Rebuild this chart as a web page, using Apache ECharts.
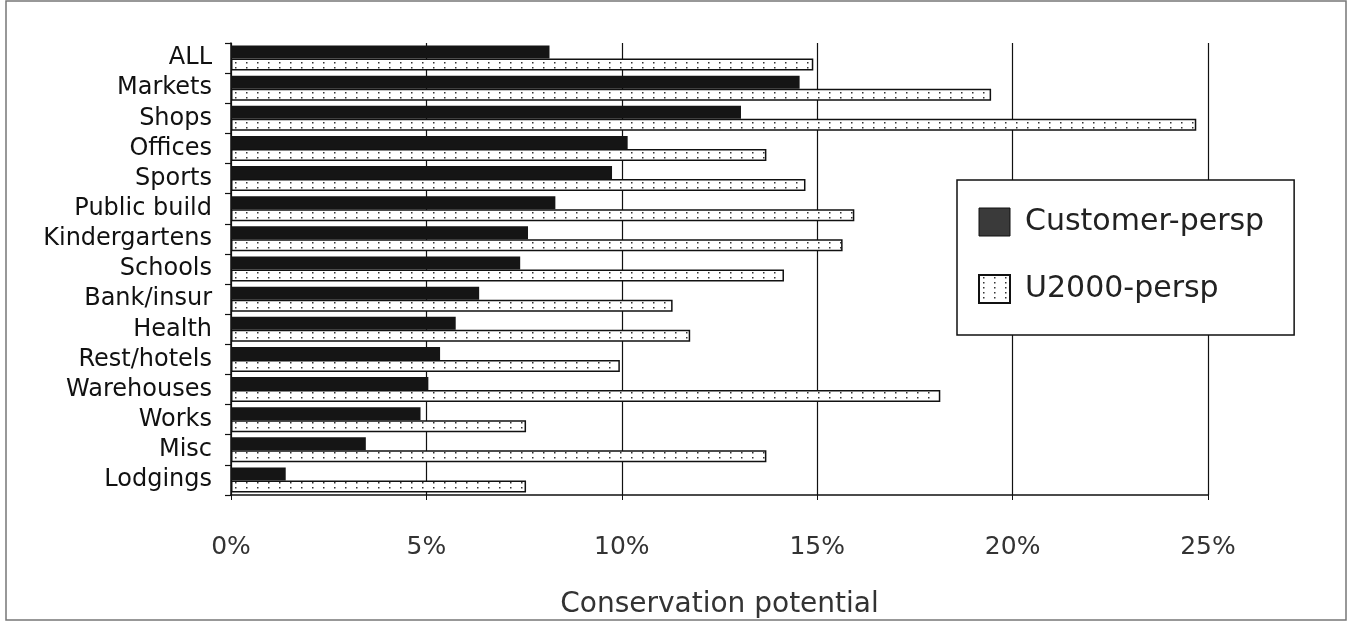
<!DOCTYPE html>
<html>
<head>
<meta charset="utf-8">
<script src="https://cdn.jsdelivr.net/npm/echarts@6/dist/echarts.min.js"></script>
<style>
html,body{margin:0;padding:0;background:#fff;}
#chart{width:1354px;height:627px;}
</style>
</head>
<body>
<div id="chart"></div>
<script>
var categories = ['ALL','Markets','Shops','Offices','Sports','Public build','Kindergartens','Schools','Bank/insur','Health','Rest/hotels','Warehouses','Works','Misc','Lodgings'];
var customerPersp = [8.15, 14.55, 13.05, 10.15, 9.75, 8.3, 7.6, 7.4, 6.35, 5.75, 5.35, 5.05, 4.85, 3.45, 1.4];
var u2000Persp = [14.9, 19.45, 24.7, 13.7, 14.7, 15.95, 15.65, 14.15, 11.3, 11.75, 9.95, 18.15, 7.55, 13.7, 7.55];
var xTicks = [0, 5, 10, 15, 20, 25];

function dotPattern() {
  var c = document.createElement('canvas');
  c.width = 11; c.height = 5;
  var g = c.getContext('2d');
  g.fillStyle = '#ffffff';
  g.fillRect(0, 0, 11, 5);
  g.fillStyle = '#333333';
  g.fillRect(4, 2, 1.5, 1.5);
  return c;
}

var chart = echarts.init(document.getElementById('chart'), null, {renderer: 'canvas'});
var font = 'DejaVu Sans';
chart.setOption({
  animation: false,
  backgroundColor: '#ffffff',
  textStyle: {fontFamily: font},
  graphic: [{
    type: 'rect',
    shape: {x: 6, y: 1, width: 1340, height: 619},
    style: {fill: 'none', stroke: '#777', lineWidth: 1.5},
    silent: true
  }],
  grid: {left: 231, right: 146, top: 43, bottom: 132, containLabel: false},
  legend: {
    orient: 'vertical',
    left: 957,
    top: 180,
    padding: [27, 30, 31, 21],
    itemWidth: 31,
    itemHeight: 28,
    itemGap: 37,
    borderColor: '#111',
    borderWidth: 1.5,
    backgroundColor: '#fff',
    textStyle: {fontFamily: font, fontSize: 30, color: '#222', padding: [0, 0, 0, 10]},
    data: [
      {name: 'Customer-persp', icon: 'rect', itemStyle: {color: '#3a3a3a', borderColor: '#111', borderWidth: 1}},
      {name: 'U2000-persp', icon: 'rect'}
    ]
  },
  xAxis: {
    type: 'value',
    min: 0,
    max: 25,
    interval: 5,
    name: 'Conservation potential',
    nameLocation: 'middle',
    nameGap: 96,
    nameTextStyle: {fontFamily: font, fontSize: 28, color: '#333'},
    axisLine: {show: true, lineStyle: {color: '#111', width: 1.5}},
    axisTick: {show: true, length: 5, lineStyle: {color: '#111'}},
    splitLine: {show: true, lineStyle: {color: '#111', width: 1.2, type: 'solid'}},
    axisLabel: {
      margin: 40,
      fontFamily: font,
      fontSize: 25,
      color: '#333',
      formatter: function (v) { return xTicks.indexOf(v) >= 0 ? v + '%' : ''; }
    }
  },
  yAxis: {
    type: 'category',
    inverse: true,
    data: categories,
    axisLine: {show: true, lineStyle: {color: '#111', width: 1.5}},
    axisTick: {show: true, interval: 0, length: 6, lineStyle: {color: '#111', width: 1.2}},
    axisLabel: {interval: 0, margin: 19, fontFamily: font, fontSize: 24, color: '#111'},
    splitLine: {show: false}
  },
  series: [
    {
      name: 'Customer-persp',
      type: 'bar',
      data: customerPersp,
      barWidth: 13,
      barGap: '0%',
      itemStyle: {color: '#151515'}
    },
    {
      name: 'U2000-persp',
      type: 'bar',
      data: u2000Persp,
      barWidth: 12,
      barGap: '0%',
      itemStyle: {
        color: {image: dotPattern(), repeat: 'repeat'},
        borderColor: '#111',
        borderWidth: 1.5
      }
    }
  ]
});
</script>
</body>
</html>
